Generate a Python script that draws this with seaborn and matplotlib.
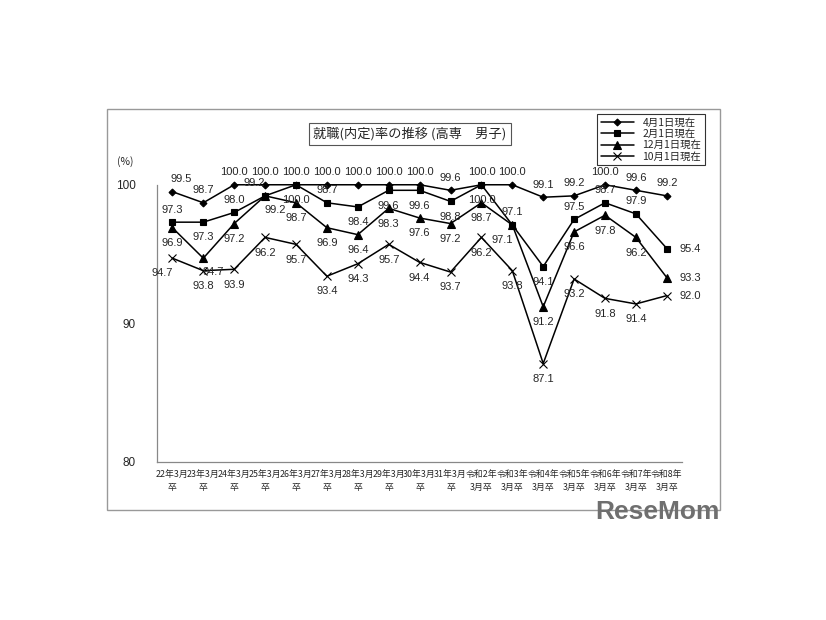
import pandas as pd
import matplotlib.pyplot as plt
import seaborn as sns
from matplotlib.patches import Rectangle

# data
categories = ['22年3月\n卒', '23年3月\n卒', '24年3月\n卒', '25年3月\n卒', '26年3月\n卒',
              '27年3月\n卒', '28年3月\n卒', '29年3月\n卒', '30年3月\n卒', '31年3月\n卒',
              '令和2年\n3月卒', '令和3年\n3月卒', '令和4年\n3月卒', '令和5年\n3月卒',
              '令和6年\n3月卒', '令和7年\n3月卒', '令和8年\n3月卒']
apr1 = [99.5, 98.7, 100.0, 100.0, 100.0, 100.0, 100.0, 100.0, 100.0, 99.6,
        100.0, 100.0, 99.1, 99.2, 100.0, 99.6, 99.2]
feb1 = [97.3, 97.3, 98.0, 99.2, 100.0, 98.7, 98.4, 99.6, 99.6, 98.8,
        100.0, 97.1, 94.1, 97.5, 98.7, 97.9, 95.4]
dec1 = [96.9, 94.7, 97.2, 99.2, 98.7, 96.9, 96.4, 98.3, 97.6, 97.2,
        98.7, 97.1, 91.2, 96.6, 97.8, 96.2, 93.3]
oct1 = [94.7, 93.8, 93.9, 96.2, 95.7, 93.4, 94.3, 95.7, 94.4, 93.7,
        96.2, 93.8, 87.1, 93.2, 91.8, 91.4, 92.0]
series_names = ['4月1日現在', '2月1日現在', '12月1日現在', '10月1日現在']

# label offsets in points (U = above, D = below, R = right, L = below-left ...)
OFF = {'U': (0, 9), 'D': (0, -11), 'R': (17, 0), 'UL': (-8, 9), 'DR': (7, -10),
       'DL': (-7, -11), 'UR': (6, 9)}
apr_pos = ['UR'] + ['U'] * 16
feb_pos = ['U', 'D', 'U', 'UL', 'D', 'U', 'D', 'D', 'D', 'D', 'D', 'U', 'D', 'U', 'U', 'U', 'R']
dec_pos = ['D', 'DR', 'D', 'DR', 'D', 'D', 'D', 'D', 'D', 'D', 'D', 'DL', 'D', 'D', 'D', 'D', 'R']
oct_pos = ['DL'] + ['D'] * 15 + ['R']

JP = ['Noto Sans CJK JP', 'DejaVu Sans']
NUM = ['Liberation Sans', 'DejaVu Sans']

sns.set_style('white')
plt.rcParams['font.family'] = JP

x = list(range(len(categories)))
df = pd.DataFrame({'x': x * 4,
                   'val': apr1 + feb1 + dec1 + oct1,
                   'series': sum([[n] * len(x) for n in series_names], [])})

fig = plt.figure(figsize=(8.26, 6.2), dpi=100, facecolor='white')
ax = fig.add_axes([0.190, 0.255, 0.636, 0.447])

markers = {'4月1日現在': 'D', '2月1日現在': 's', '12月1日現在': '^', '10月1日現在': 'x'}
sizes = {'4月1日現在': 3.5, '2月1日現在': 5, '12月1日現在': 5.5, '10月1日現在': 5.5}
for name in series_names:
    sub = df[df['series'] == name]
    sns.lineplot(data=sub, x='x', y='val', ax=ax, color='black', linewidth=1.1,
                 marker=markers[name], markersize=sizes[name], markeredgecolor='black',
                 markeredgewidth=0.8, label=name, clip_on=False)

for vals, pos in [(apr1, apr_pos), (feb1, feb_pos), (dec1, dec_pos), (oct1, oct_pos)]:
    for i, (v, p) in enumerate(zip(vals, pos)):
        ax.annotate(f'{v:.1f}', (i, v), xytext=OFF[p], textcoords='offset points',
                    ha='center', va='center', fontsize=8, family=NUM)

ax.set_xlim(-0.5, len(categories) - 0.5)
ax.set_ylim(80, 100)
ax.set_yticks([80, 90, 100])
ax.set_yticklabels(['80', '90', '100'], family=NUM, fontsize=8.5)
ax.set_xticks([i - 0.5 for i in range(len(categories) + 1)])
ax.set_xticklabels([])
ax.set_xticks(x, minor=True)
ax.set_xticklabels(categories, minor=True, fontsize=6.4, linespacing=1.6)
ax.tick_params(axis='x', which='major', length=3, color='#888888', direction='out')
ax.tick_params(axis='x', which='minor', length=0, pad=6)
ax.tick_params(axis='y', length=3, color='#888888', direction='out', pad=12)
ax.set_xlabel('')
ax.set_ylabel('')
for side in ['top', 'right']:
    ax.spines[side].set_visible(False)
for side in ['left', 'bottom']:
    ax.spines[side].set_color('#888888')
    ax.spines[side].set_linewidth(0.9)

ax.text(-0.06, 1.07, '(%)', transform=ax.transAxes, fontsize=7.5, ha='center')

leg = ax.legend(loc='upper right', bbox_to_anchor=(705 / 826, 1 - 114 / 620),
                bbox_transform=fig.transFigure, fontsize=7.5, frameon=True,
                fancybox=False, handlelength=3.2, borderpad=0.35, labelspacing=0.12,
                borderaxespad=0, markerfirst=True)
leg.get_frame().set_edgecolor('black')
leg.get_frame().set_linewidth(0.8)

fig.text(410 / 826, 1 - 134 / 620, '就職(内定)率の推移 (高専　男子)', ha='center', va='center',
         fontsize=9.5, bbox=dict(boxstyle='square,pad=0.3', facecolor='white',
                                 edgecolor='#555555', linewidth=0.8))

# outer frame
fig.patches.append(Rectangle((107 / 826, 1 - 510 / 620), 613 / 826, 401 / 620,
                             transform=fig.transFigure, fill=False,
                             edgecolor='#999999', linewidth=1.0))

fig.text(720 / 826, 1 - 512 / 620, 'ReseMom', ha='right', va='center', fontsize=19,
         fontweight='bold', color='#6f6f6f', family=NUM)

plt.savefig('out.png', dpi=100)
